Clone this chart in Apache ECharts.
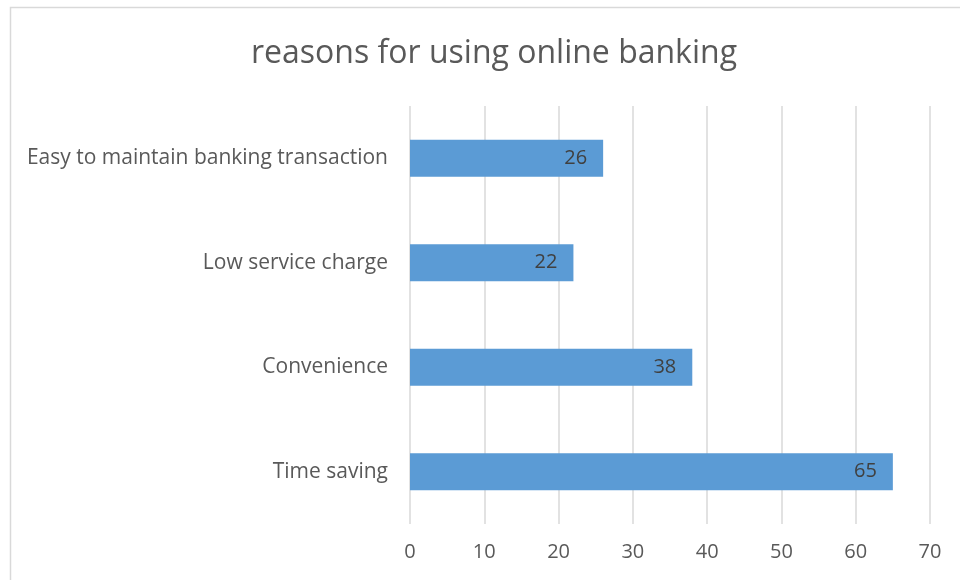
<!DOCTYPE html>
<html>
<head>
<meta charset="utf-8">
<script src="https://cdn.jsdelivr.net/npm/echarts@6/dist/echarts.min.js"></script>
<style>
  html, body { margin: 0; padding: 0; background: #fff; }
  #chart { width: 960px; height: 580px; }
</style>
</head>
<body>
<div id="chart"></div>
<script>
// Reasons (bottom to top on the vertical axis)
const reasons = ['Time saving', 'Convenience', 'Low service charge', 'Easy to maintain banking transaction'];
const respondents = [65, 38, 22, 26];
const axisTicks = [0, 10, 20, 30, 40, 50, 60, 70];

const FONT = '"Open Sans"';
const chart = echarts.init(document.getElementById('chart'));

chart.setOption({
  animation: false,
  textStyle: { fontFamily: FONT },
  title: {
    text: 'reasons for using online banking',
    left: 246,
    top: 33,
    textStyle: { fontFamily: FONT, fontSize: 32, fontWeight: 'normal', color: '#595959' }
  },
  graphic: [{
    type: 'rect',
    shape: { x: 10.5, y: 7.5, width: 980, height: 600 },
    style: { fill: 'none', stroke: '#d9d9d9', lineWidth: 1.5 },
    silent: true
  }],
  grid: { left: 410, right: 30, top: 106, bottom: 56, containLabel: false },
  xAxis: {
    type: 'value',
    min: axisTicks[0],
    max: axisTicks[axisTicks.length - 1],
    interval: axisTicks[1] - axisTicks[0],
    axisLine: { show: false },
    axisTick: { show: false },
    axisLabel: { color: '#595959', fontSize: 20, margin: 18, fontFamily: FONT },
    splitLine: { show: true, lineStyle: { color: '#d9d9d9', width: 1.5 } }
  },
  yAxis: {
    type: 'category',
    data: reasons,
    axisLine: { show: false },
    axisTick: { show: false },
    axisLabel: { color: '#595959', fontSize: 21, margin: 22, fontFamily: FONT }
  },
  series: [{
    type: 'bar',
    data: respondents,
    barWidth: 37,
    itemStyle: { color: '#5b9bd5' },
    label: {
      show: true,
      position: 'insideRight',
      distance: 16,
      color: '#404040',
      fontSize: 20,
      fontFamily: FONT
    }
  }]
});
</script>
</body>
</html>
